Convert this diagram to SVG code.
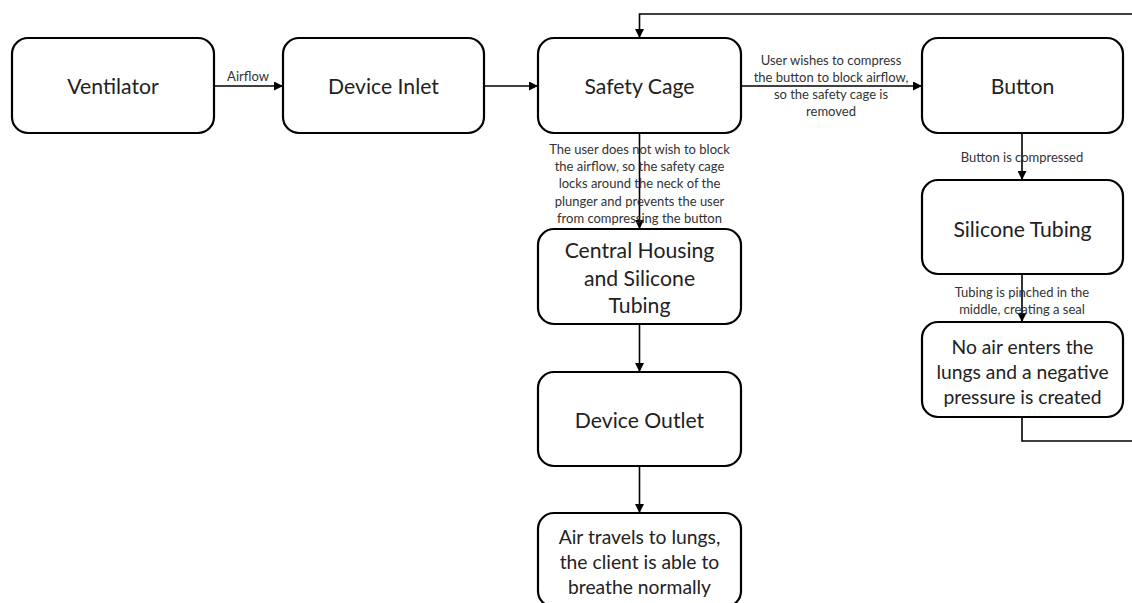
<svg xmlns="http://www.w3.org/2000/svg" width="1132" height="603" viewBox="0 0 1132 603">
<defs>
<marker id="ah" viewBox="0 0 10 10" refX="10" refY="5" markerWidth="9" markerHeight="9" markerUnits="userSpaceOnUse" orient="auto">
<path d="M0,0 L10,5 L0,10 z" fill="#000"/>
</marker>
<style>
.box{fill:#fff;stroke:#000;stroke-width:2.2}
.t{font-family:Lato,"Open Sans","Liberation Sans",sans-serif;fill:#222;text-anchor:middle}
.big{font-size:21.2px}
.mid{font-size:19.3px}
.lbl{font-family:Lato,"Open Sans","Liberation Sans",sans-serif;font-size:13px;fill:#333;text-anchor:middle}
.c{fill:none;stroke:#000;stroke-width:1.6}
</style>
</defs>
<rect width="1132" height="603" fill="#fff"/>
<g id="connectors">
<path class="c" d="M214,86 H283" marker-end="url(#ah)"/>
<path class="c" d="M484,86 H538" marker-end="url(#ah)"/>
<path class="c" d="M741,86 H922" marker-end="url(#ah)"/>
<path class="c" d="M639.5,133 V229" marker-end="url(#ah)"/>
<path class="c" d="M639.5,324 V372" marker-end="url(#ah)"/>
<path class="c" d="M639.5,466 V513" marker-end="url(#ah)"/>
<path class="c" d="M1022,133 V180" marker-end="url(#ah)"/>
<path class="c" d="M1022,274 V322" marker-end="url(#ah)"/>
<path class="c" d="M1022,417 V441 H1145 V14 H639.5 V38" marker-end="url(#ah)"/>
<text class="lbl" x="248" y="81">Airflow</text>
<text class="lbl"><tspan x="831" y="65">User wishes to compress</tspan><tspan x="831" y="82">the button to block airflow,</tspan><tspan x="831" y="99">so the safety cage is</tspan><tspan x="831" y="116">removed</tspan></text>
<text class="lbl"><tspan x="639.5" y="154">The user does not wish to block</tspan><tspan x="639.5" y="171">the airflow, so the safety cage</tspan><tspan x="639.5" y="188">locks around the neck of the</tspan><tspan x="639.5" y="206">plunger and prevents the user</tspan><tspan x="639.5" y="223">from compressing the button</tspan></text>
<text class="lbl" x="1022" y="162">Button is compressed</text>
<text class="lbl"><tspan x="1022" y="297">Tubing is pinched in the</tspan><tspan x="1022" y="314">middle, creating a seal</tspan></text>
</g>
<g id="ventilator"><rect class="box" x="12" y="38" width="202" height="95" rx="16"/><text class="t big" x="113" y="94">Ventilator</text></g>
<g id="device-inlet"><rect class="box" x="283" y="38" width="201" height="95" rx="16"/><text class="t big" x="383.5" y="94">Device Inlet</text></g>
<g id="safety-cage"><rect class="box" x="538" y="38" width="203" height="95" rx="16"/><text class="t big" x="639.5" y="94">Safety Cage</text></g>
<g id="button"><rect class="box" x="922" y="38" width="201" height="95" rx="16"/><text class="t big" x="1022.5" y="94">Button</text></g>
<g id="central-housing"><rect class="box" x="538" y="229" width="203" height="95" rx="16"/><text class="t big"><tspan x="639.5" y="258">Central Housing</tspan><tspan x="639.5" y="285.5">and Silicone</tspan><tspan x="639.5" y="313">Tubing</tspan></text></g>
<g id="device-outlet"><rect class="box" x="538" y="372" width="203" height="94" rx="16"/><text class="t big" x="639.5" y="428">Device Outlet</text></g>
<g id="air-travels"><rect class="box" x="538" y="513" width="203" height="94" rx="16"/><text class="t mid"><tspan x="639.5" y="544">Air travels to lungs,</tspan><tspan x="639.5" y="569">the client is able to</tspan><tspan x="639.5" y="594">breathe normally</tspan></text></g>
<g id="silicone-tubing"><rect class="box" x="922" y="180" width="201" height="94" rx="16"/><text class="t big" x="1022.5" y="237">Silicone Tubing</text></g>
<g id="no-air"><rect class="box" x="922" y="322" width="201" height="95" rx="16"/><text class="t mid"><tspan x="1022.5" y="354">No air enters the</tspan><tspan x="1022.5" y="379">lungs and a negative</tspan><tspan x="1022.5" y="404">pressure is created</tspan></text></g>
</svg>
